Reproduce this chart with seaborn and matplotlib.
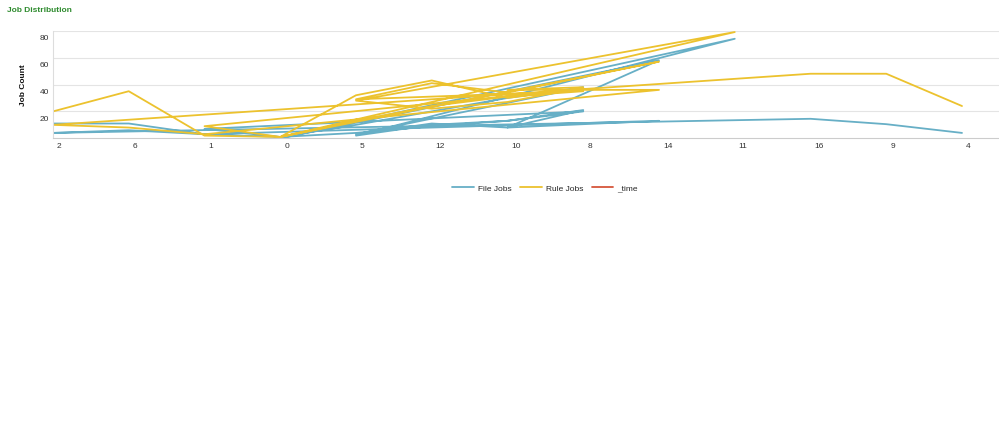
import matplotlib
matplotlib.use("Agg")
import matplotlib.pyplot as plt
import matplotlib.transforms as mtrans
from matplotlib.lines import Line2D
import seaborn as sns
import pandas as pd

# x category of each record, in record order
x_cat = ["2", "6", "1", "0", "5", "12", "10", "8",
         "1", "0", "5", "12", "10", "8",
         "5", "12", "10", "14",
         "0", "11",
         "5", "12", "10", "8",
         "10", "14",
         "1", "6", "2", "16", "9", "4"]
file_jobs = [11, 11, 3, 1, 4, 9, 13, 20,
             7, 1, 10, 20, 30, 38,
             3, 11, 8, 58,
             0, 74,
             2, 10, 13, 21,
             8, 13,
             3, 6, 4, 14.5, 10.5, 4]
rule_jobs = [20, 35, 2, 1, 32, 43, 30, 37,
             9, 1, 13, 24, 31, 35,
             29, 41, 34, 57,
             1, 79,
             28, 22, 27, 38,
             36, 36,
             3, 8, 10, 48, 48, 24]
series_names = ["File Jobs", "Rule Jobs", "_time"]
series_colors = ["#67AFC6", "#ECC22E", "#D6563C"]
y_ticks = [20, 40, 60, 80]

cat_order = list(dict.fromkeys(x_cat))
df = pd.DataFrame({"cat": x_cat, "File Jobs": file_jobs, "Rule Jobs": rule_jobs})
df["rec"] = range(len(df))
df["pos"] = pd.Categorical(df["cat"], categories=cat_order).codes
long = df.melt(id_vars=["rec", "cat", "pos"], value_vars=["File Jobs", "Rule Jobs"],
               var_name="series", value_name="count").sort_values(["series", "rec"])

sns.set_style("white")
plt.rcParams["font.family"] = ["Liberation Sans", "DejaVu Sans"]
FS = 6

fig = plt.figure(figsize=(9.99, 4.35), dpi=100)
ax = fig.add_axes([53 / 999, (435 - 139.3) / 435, 946 / 999, (139.3 - 31.7) / 435])

sns.lineplot(data=long, x="pos", y="count", hue="series",
             hue_order=["File Jobs", "Rule Jobs"],
             palette=series_colors[:2], sort=False, estimator=None,
             units="series", linewidth=1.3, legend=False, ax=ax)

ax.set_xlim(0, 946 / 75.75)
ax.set_ylim(0, 80)
ax.set_xlabel("")
ax.set_ylabel("Job Count", fontsize=FS, fontweight="bold", labelpad=9, color="#111111")

ax.set_yticks(y_ticks)
ax.set_yticklabels([str(v) for v in y_ticks], fontsize=FS, color="#333333")
ax.tick_params(axis="y", length=0, pad=3)
for lab in ax.get_yticklabels():
    lab.set_transform(lab.get_transform() + mtrans.ScaledTranslation(0, -6 / 100, fig.dpi_scale_trans))
ax.yaxis.grid(True, color="#E4E4E4", linewidth=0.8)

ax.set_xticks(range(len(cat_order)))
ax.set_xticklabels(cat_order, fontsize=FS, color="#333333", ha="left")
ax.tick_params(axis="x", length=13, width=0.8, color="#D4D4D4", direction="out", pad=-10)
for lab in ax.get_xticklabels():
    lab.set_transform(lab.get_transform() + mtrans.ScaledTranslation(4 / 100, 0, fig.dpi_scale_trans))

for side in ["top", "right"]:
    ax.spines[side].set_visible(False)
ax.spines["bottom"].set_color("#CCCCCC")
ax.spines["left"].set_color("#DDDDDD")
ax.spines["bottom"].set_linewidth(0.8)
ax.spines["left"].set_linewidth(0.8)

fig.text(7 / 999, 1 - 11 / 435, "Job Distribution", fontsize=FS, fontweight="bold",
         color="#2E8B2E", ha="left", va="center")

handles = [Line2D([0], [0], color=c, linewidth=1.3) for c in series_colors]
leg = fig.legend(handles, series_names, loc="center", bbox_to_anchor=(545 / 999, 1 - 189 / 435),
                 ncol=3, frameon=False, fontsize=FS, handlelength=2.6, columnspacing=1.0,
                 handletextpad=0.5)
t = leg.get_texts()[2]
t.set_transform(t.get_transform() + mtrans.ScaledTranslation(0, 1 / 100, fig.dpi_scale_trans))

fig.savefig("out.png", dpi=100, facecolor="white")
